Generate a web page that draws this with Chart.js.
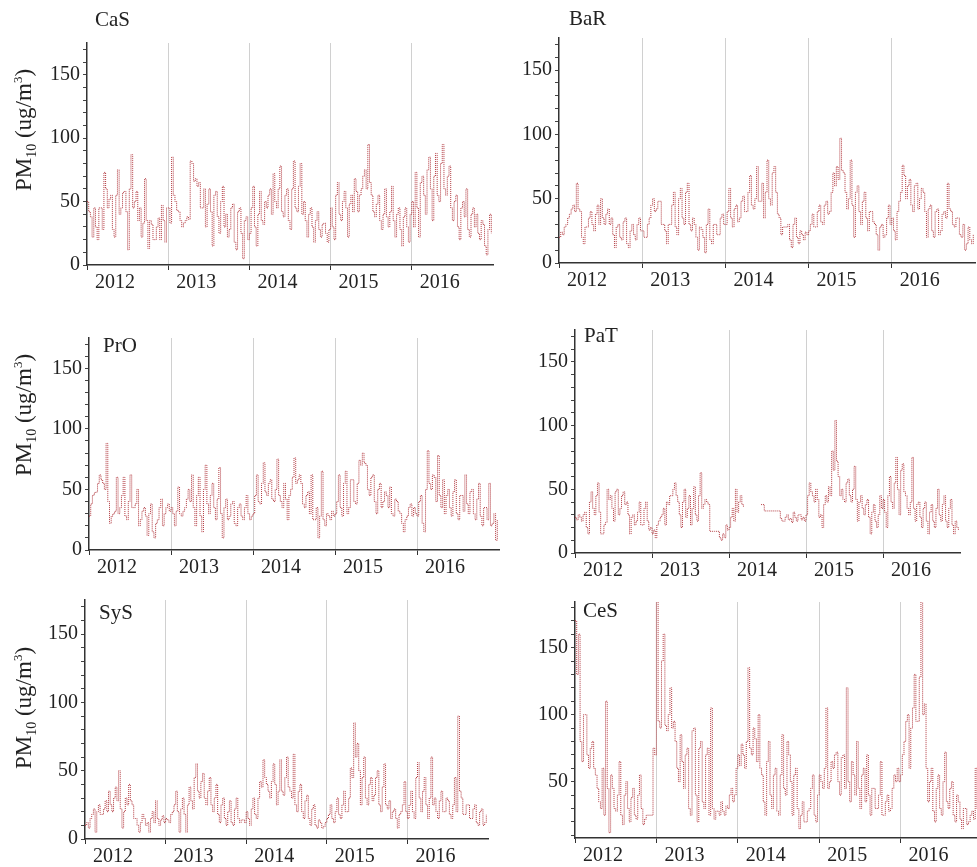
<!DOCTYPE html>
<html><head><meta charset="utf-8">
<script src="https://cdn.jsdelivr.net/npm/chart.js@4"></script>
<style>
html,body{margin:0;padding:0;background:#fff;width:977px;height:867px;overflow:hidden;position:relative;font-family:"Liberation Serif","DejaVu Serif",serif;}
.pw{position:absolute;}
.ttl{position:absolute;font-size:21px;color:#222;line-height:1;z-index:5;}
.yt{position:absolute;font-size:23px;color:#222;white-space:nowrap;line-height:1;transform:translate(-50%,-50%) rotate(-90deg);z-index:5;}
.yt sub{font-size:14px;} .yt sup{font-size:13px;}
</style></head><body>
<div class="ttl" style="left:95px;top:9px">CaS</div>
<div class="ttl" style="left:569px;top:8px">BaR</div>
<div class="ttl" style="left:103px;top:335px">PrO</div>
<div class="ttl" style="left:584px;top:325px">PaT</div>
<div class="ttl" style="left:99px;top:602px">SyS</div>
<div class="ttl" style="left:583px;top:600px">CeS</div>
<div class="yt" style="left:25px;top:130px">PM<sub>10</sub> (ug/m<sup>3</sup>)</div>
<div class="yt" style="left:25px;top:415px">PM<sub>10</sub> (ug/m<sup>3</sup>)</div>
<div class="yt" style="left:25px;top:708px">PM<sub>10</sub> (ug/m<sup>3</sup>)</div>
<script>
// Time base: weekly-ish samples (48 per year) starting Jan 2012
const START_YEAR = 2012;
const PER_YEAR = 48;
const yearTicks = [2012, 2013, 2014, 2015, 2016, 2017];

const CaS = [
 50,42,38,22,45,30,20,45,45,28,73,60,45,52,55,28,22,55,75,40,45,57,58,42,12,60,87,45,50,58,35,45,22,33,68,35,13,35,32,20,20,30,37,20,47,35,18,45,
 45,33,85,55,50,43,42,35,30,33,35,38,36,82,80,66,68,62,65,45,45,60,30,48,60,42,15,55,58,38,25,50,62,30,40,22,28,45,48,18,12,42,45,25,5,35,38,20,
 25,45,62,30,15,40,58,35,32,50,45,55,60,40,72,50,45,60,78,42,38,55,60,35,28,60,82,45,42,62,80,40,50,35,22,40,45,30,18,35,42,28,22,32,33,25,18,28,
 45,30,20,55,65,40,35,50,58,45,22,48,55,42,68,58,42,55,60,70,75,60,95,65,55,42,38,48,55,35,28,40,60,38,30,42,62,35,22,40,45,28,15,38,45,30,18,40,
 50,30,73,45,22,65,70,55,40,75,85,60,35,70,88,55,50,80,95,60,55,70,78,45,35,50,55,30,20,45,50,38,60,28,22,40,45,30,40,25,20,35,32,15,8,28,40,25
];
const BaR = [
 20,24,22,28,30,35,38,42,45,40,62,42,40,20,15,28,28,35,40,30,25,38,45,30,50,35,30,38,42,30,35,22,12,28,30,20,18,32,35,15,12,25,30,22,18,30,35,25,
 25,20,20,30,35,45,50,40,42,48,48,30,30,25,15,30,30,45,55,28,22,50,58,35,30,55,62,30,25,35,30,20,10,28,26,20,8,30,42,18,15,30,30,22,22,35,38,30,
 30,40,58,35,28,42,45,32,35,48,52,40,40,55,68,45,42,50,75,48,48,62,35,55,80,50,45,70,75,55,38,35,22,28,28,28,30,18,12,30,35,20,15,25,22,18,24,22,
 25,30,38,28,28,40,45,32,30,45,48,38,40,55,70,60,75,65,97,72,70,55,42,50,80,45,20,55,60,40,30,48,55,35,25,40,40,32,30,22,10,28,30,20,22,35,45,30,
 35,25,18,40,48,55,76,68,50,60,65,45,40,60,62,42,50,58,55,40,20,42,45,25,20,40,42,22,25,38,40,35,62,42,40,30,28,35,35,22,20,30,10,15,28,18,15,22
];
const PrO = [
 28,38,45,47,48,55,62,58,55,50,88,40,22,28,30,32,60,30,35,45,60,28,25,40,62,35,35,38,50,20,25,32,35,28,12,30,38,15,10,22,25,35,42,20,30,35,38,32,
 35,30,20,32,52,30,28,32,35,42,50,40,62,35,20,45,60,28,15,50,70,38,30,45,55,35,25,42,68,30,10,35,42,25,28,38,40,22,20,35,38,28,25,35,45,30,25,28,
 30,45,62,40,38,55,72,48,45,55,58,42,40,50,75,45,40,35,55,42,25,45,50,60,76,55,58,62,55,38,35,45,48,30,62,25,25,35,10,28,65,25,20,30,28,25,32,28,
 30,40,62,35,28,55,65,30,35,58,58,40,38,55,74,70,80,72,70,50,45,60,62,40,30,50,55,35,40,48,45,35,52,30,28,42,40,32,30,22,15,25,28,35,38,28,35,30,
 28,40,45,22,15,50,82,55,50,62,60,40,78,45,35,58,30,45,50,35,28,48,58,30,25,45,45,32,62,38,30,48,50,30,25,42,55,28,20,35,35,25,55,20,22,30,8,25
];
const PaT = [
 28,26,30,28,25,30,32,20,15,40,48,35,30,45,55,32,15,15,22,24,50,42,45,35,25,48,50,30,35,45,48,38,40,30,15,28,30,22,25,32,40,22,22,35,40,25,18,20,
 15,18,12,22,25,28,30,35,22,40,38,45,45,50,55,45,40,30,20,40,50,28,35,45,22,35,52,30,25,45,63,35,38,42,40,38,17,17,17,17,17,17,12,10,15,12,22,18,
 20,28,35,25,50,32,40,45,38,36,null,null,null,null,null,null,null,null,null,null,38,38,33,33,33,33,33,33,33,33,33,33,27,25,25,28,30,26,27,24,32,28,25,30,30,26,28,25,
 30,45,55,48,45,40,50,42,28,30,20,38,45,40,52,45,80,65,104,72,60,45,50,42,40,55,58,45,40,50,68,42,25,40,45,35,30,38,42,28,15,32,38,25,20,30,45,35,
 42,32,20,45,60,40,35,55,75,50,30,65,70,48,45,35,30,40,75,35,25,38,40,28,20,35,40,25,15,32,38,25,20,35,50,30,25,38,45,25,20,35,42,22,15,25,20,18
];
const SyS = [
 10,12,8,15,18,22,5,20,25,18,18,22,28,20,35,25,20,30,38,28,50,22,8,20,30,25,40,28,25,15,15,10,5,12,18,15,10,12,5,15,20,12,28,15,10,14,17,12,
 15,14,12,18,20,25,35,20,5,22,30,18,5,25,38,28,22,45,55,35,30,42,48,30,25,35,45,25,20,30,40,18,12,25,30,15,10,20,28,12,10,22,30,15,12,14,14,12,
 20,15,10,22,30,18,15,30,42,38,58,45,40,35,30,42,55,40,25,35,58,35,32,45,60,38,35,30,62,25,20,35,40,20,15,28,32,15,10,22,25,10,8,14,12,8,9,12,
 15,18,25,15,12,20,30,18,15,25,35,20,20,30,52,45,85,60,70,50,25,45,60,30,25,40,45,28,32,45,50,25,20,38,55,25,22,28,15,20,22,15,8,18,20,25,42,20,
 15,25,35,20,15,45,56,30,20,35,45,25,15,30,60,25,30,20,15,28,35,20,20,30,28,18,15,25,45,20,90,35,30,18,18,25,25,15,15,22,25,12,10,20,22,10,12,18
];
const CeS = [
 170,130,160,80,65,100,100,70,60,75,80,60,55,45,35,30,60,25,110,45,12,55,45,30,28,40,65,25,18,40,50,30,20,38,45,25,22,40,55,30,18,22,25,25,25,25,75,70,
 185,95,90,140,160,92,88,100,120,90,95,80,60,50,85,65,45,70,75,30,25,88,90,40,20,75,80,35,30,70,75,25,105,30,22,28,28,25,35,28,25,32,30,40,45,35,40,60,
 70,62,78,70,60,80,135,75,70,90,82,65,100,60,55,35,25,65,80,40,30,55,60,28,25,55,85,45,40,80,70,50,25,55,60,30,15,25,35,20,20,28,30,45,55,25,20,40,
 55,50,45,60,105,45,50,65,60,70,72,50,40,68,70,45,120,50,35,65,55,40,80,45,30,55,60,35,70,40,25,45,45,30,30,40,65,25,25,35,40,28,30,45,55,50,60,50,
 55,70,80,95,100,60,90,105,130,95,95,128,185,100,108,60,35,50,60,28,20,45,55,30,25,50,72,35,30,45,50,25,20,40,35,22,15,30,30,18,20,25,28,22,60,30,25,35
];

// panel layout: chart-area pixel box and y range
const panels = [
 {values: CaS, L: 87,  R: 493, T: 43,  B: 265, min: 0, max: 175},
 {values: BaR, L: 559, R: 975, T: 38,  B: 263, min: 0, max: 175},
 {values: PrO, L: 89,  R: 499, T: 338, B: 550, min: 0, max: 175},
 {values: PaT, L: 575, R: 960, T: 330, B: 553, min: 0, max: 175},
 {values: SyS, L: 85,  R: 488, T: 600, B: 839, min: 0, max: 175},
 {values: CeS, L: 575, R: 982, T: 602, B: 838, min: 8, max: 184}
];

const FONT = {family: "'Liberation Serif', 'DejaVu Serif', serif", size: 20};
const PADT = 16, PADR = 4, YW = 50, XH = 34;

panels.forEach(p => {
  const wrap = document.createElement('div');
  wrap.className = 'pw';
  const cl = p.L - YW, ct = p.T - PADT, cw = p.R - p.L + YW + PADR, ch = p.B - p.T + PADT + XH;
  wrap.style.left = cl + 'px'; wrap.style.top = ct + 'px';
  wrap.style.width = cw + 'px'; wrap.style.height = ch + 'px';
  const cv = document.createElement('canvas');
  cv.width = cw; cv.height = ch;
  cv.style.width = cw + 'px'; cv.style.height = ch + 'px';
  wrap.appendChild(cv);
  document.body.appendChild(wrap);

  const pts = p.values.map((v, i) => ({x: START_YEAR + i / PER_YEAR, y: v}));
  new Chart(cv, {
    type: 'line',
    data: {datasets: [{
      data: pts, stepped: true, borderColor: '#b23a40', borderWidth: 1,
      borderDash: [1, 1], pointRadius: 0, spanGaps: false, fill: false
    }]},
    options: {
      responsive: false, animation: false, devicePixelRatio: 1,
      layout: {padding: {top: PADT, right: PADR, left: 0, bottom: 0}},
      plugins: {legend: {display: false}, tooltip: {enabled: false}},
      scales: {
        x: {
          type: 'linear', min: 2012, max: 2017,
          afterBuildTicks: s => { s.ticks = yearTicks.map(v => ({value: v})); },
          afterFit: s => { s.height = XH; },
          ticks: {autoSkip: false, maxRotation: 0, minRotation: 0, labelOffset: 28, padding: 1,
                  font: FONT, color: '#222', callback: v => (v < 2017 ? String(v) : '')},
          grid: {
            color: c => (c.tick && (c.tick.value === 2012 || c.tick.value === 2017)) ? 'rgba(0,0,0,0)' : '#d0d0d0',
            tickColor: c => (c.tick && c.tick.value === 2017) ? 'rgba(0,0,0,0)' : '#333',
            tickLength: 5, lineWidth: 1
          },
          border: {color: '#333', width: 1.5}
        },
        y: {
          type: 'linear', min: p.min, max: p.max,
          afterBuildTicks: s => {
            const t = [];
            for (let v = Math.ceil(p.min / 10) * 10; v <= p.max; v += 10) t.push({value: v});
            s.ticks = t;
          },
          afterFit: s => { s.width = YW; },
          ticks: {autoSkip: false, padding: 3, font: FONT, color: '#222',
                  callback: v => (v % 50 === 0 ? String(v) : '')},
          grid: {drawOnChartArea: false, tickLength: 4, tickColor: '#444'},
          border: {color: '#333', width: 1.5}
        }
      }
    }
  });
});
</script>
</body></html>
